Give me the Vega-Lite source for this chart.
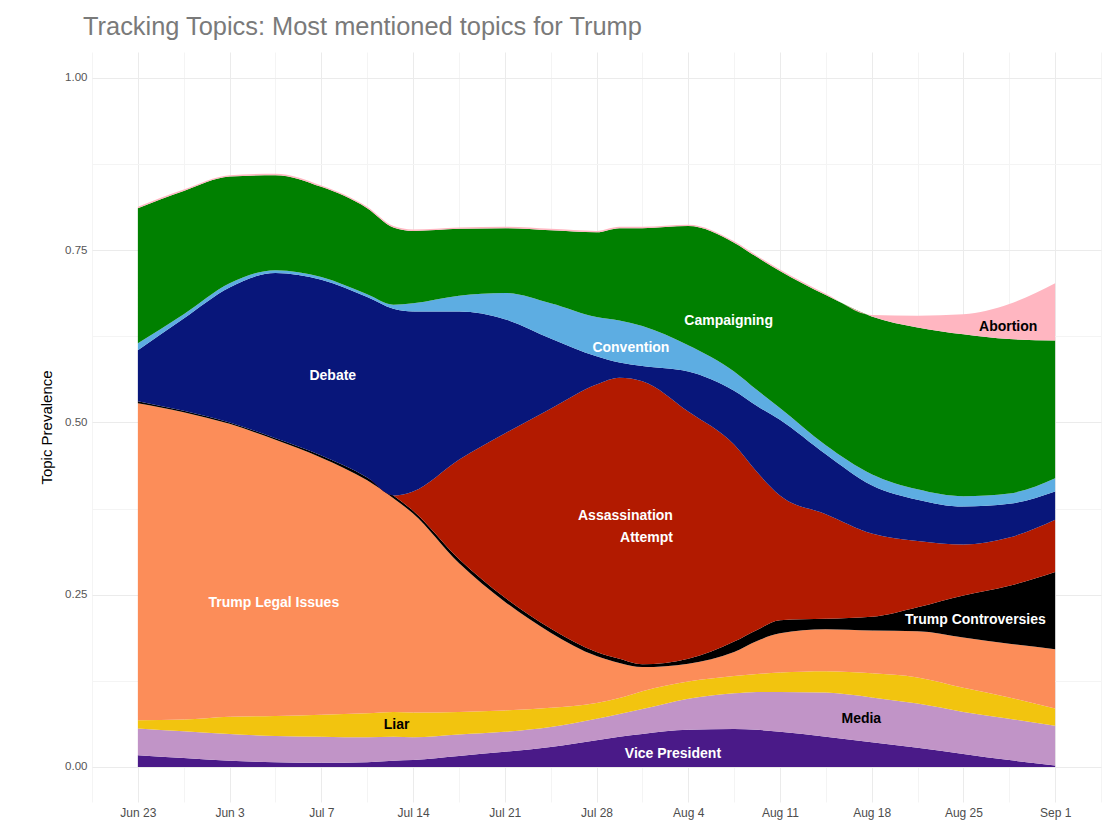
{
  "$schema": "https://vega.github.io/schema/vega-lite/v6.json",
  "width": 1009,
  "height": 750,
  "autosize": {"type": "none"},
  "padding": {"left": 92, "top": 52, "right": 9, "bottom": 31},
  "background": "white",
  "title": {"text": "Tracking Topics: Most mentioned topics for Trump", "anchor": "start", "frame": "group", "dx": -9, "dy": 25, "offset": 17, "baseline": "alphabetic", "font": "Liberation Sans", "fontSize": 25.4, "fontWeight": "normal", "color": "#7a7a7a"},
  "config": {"view": {"stroke": null}},
  "datasets": {
    "topics": [
      {"date":"2024-06-23T00:00:00Z","topic":"Vice President","value":0.017},{"date":"2024-06-23T00:00:00Z","topic":"Media","value":0.039},{"date":"2024-06-23T00:00:00Z","topic":"Liar","value":0.012},{"date":"2024-06-23T00:00:00Z","topic":"Trump Legal Issues","value":0.460},{"date":"2024-06-23T00:00:00Z","topic":"Trump Controversies","value":0.003},{"date":"2024-06-23T00:00:00Z","topic":"Assassination Attempt","value":0},{"date":"2024-06-23T00:00:00Z","topic":"Debate","value":0.074},{"date":"2024-06-23T00:00:00Z","topic":"Convention","value":0.010},{"date":"2024-06-23T00:00:00Z","topic":"Campaigning","value":0.196},{"date":"2024-06-23T00:00:00Z","topic":"Abortion","value":0.002},
      {"date":"2024-06-26T12:00:00Z","topic":"Vice President","value":0.013},{"date":"2024-06-26T12:00:00Z","topic":"Media","value":0.039},{"date":"2024-06-26T12:00:00Z","topic":"Liar","value":0.017},{"date":"2024-06-26T12:00:00Z","topic":"Trump Legal Issues","value":0.446},{"date":"2024-06-26T12:00:00Z","topic":"Trump Controversies","value":0.002},{"date":"2024-06-26T12:00:00Z","topic":"Assassination Attempt","value":0},{"date":"2024-06-26T12:00:00Z","topic":"Debate","value":0.134},{"date":"2024-06-26T12:00:00Z","topic":"Convention","value":0.006},{"date":"2024-06-26T12:00:00Z","topic":"Campaigning","value":0.179},{"date":"2024-06-26T12:00:00Z","topic":"Abortion","value":0.002},
      {"date":"2024-06-30T00:00:00Z","topic":"Vice President","value":0.009},{"date":"2024-06-30T00:00:00Z","topic":"Media","value":0.039},{"date":"2024-06-30T00:00:00Z","topic":"Liar","value":0.025},{"date":"2024-06-30T00:00:00Z","topic":"Trump Legal Issues","value":0.425},{"date":"2024-06-30T00:00:00Z","topic":"Trump Controversies","value":0.002},{"date":"2024-06-30T00:00:00Z","topic":"Assassination Attempt","value":0},{"date":"2024-06-30T00:00:00Z","topic":"Debate","value":0.196},{"date":"2024-06-30T00:00:00Z","topic":"Convention","value":0.006},{"date":"2024-06-30T00:00:00Z","topic":"Campaigning","value":0.155},{"date":"2024-06-30T00:00:00Z","topic":"Abortion","value":0.002},
      {"date":"2024-07-03T12:00:00Z","topic":"Vice President","value":0.007},{"date":"2024-07-03T12:00:00Z","topic":"Media","value":0.038},{"date":"2024-07-03T12:00:00Z","topic":"Liar","value":0.029},{"date":"2024-07-03T12:00:00Z","topic":"Trump Legal Issues","value":0.401},{"date":"2024-07-03T12:00:00Z","topic":"Trump Controversies","value":0.002},{"date":"2024-07-03T12:00:00Z","topic":"Assassination Attempt","value":0},{"date":"2024-07-03T12:00:00Z","topic":"Debate","value":0.240},{"date":"2024-07-03T12:00:00Z","topic":"Convention","value":0.004},{"date":"2024-07-03T12:00:00Z","topic":"Campaigning","value":0.138},{"date":"2024-07-03T12:00:00Z","topic":"Abortion","value":0.002},
      {"date":"2024-07-07T00:00:00Z","topic":"Vice President","value":0.006},{"date":"2024-07-07T00:00:00Z","topic":"Media","value":0.038},{"date":"2024-07-07T00:00:00Z","topic":"Liar","value":0.032},{"date":"2024-07-07T00:00:00Z","topic":"Trump Legal Issues","value":0.373},{"date":"2024-07-07T00:00:00Z","topic":"Trump Controversies","value":0.003},{"date":"2024-07-07T00:00:00Z","topic":"Assassination Attempt","value":0},{"date":"2024-07-07T00:00:00Z","topic":"Debate","value":0.255},{"date":"2024-07-07T00:00:00Z","topic":"Convention","value":0.004},{"date":"2024-07-07T00:00:00Z","topic":"Campaigning","value":0.131},{"date":"2024-07-07T00:00:00Z","topic":"Abortion","value":0.002},
      {"date":"2024-07-10T12:00:00Z","topic":"Vice President","value":0.007},{"date":"2024-07-10T12:00:00Z","topic":"Media","value":0.036},{"date":"2024-07-10T12:00:00Z","topic":"Liar","value":0.035},{"date":"2024-07-10T12:00:00Z","topic":"Trump Legal Issues","value":0.338},{"date":"2024-07-10T12:00:00Z","topic":"Trump Controversies","value":0.004},{"date":"2024-07-10T12:00:00Z","topic":"Assassination Attempt","value":0},{"date":"2024-07-10T12:00:00Z","topic":"Debate","value":0.262},{"date":"2024-07-10T12:00:00Z","topic":"Convention","value":0.004},{"date":"2024-07-10T12:00:00Z","topic":"Campaigning","value":0.125},{"date":"2024-07-10T12:00:00Z","topic":"Abortion","value":0.002},
      {"date":"2024-07-12T12:00:00Z","topic":"Vice President","value":0.009},{"date":"2024-07-12T12:00:00Z","topic":"Media","value":0.035},{"date":"2024-07-12T12:00:00Z","topic":"Liar","value":0.036},{"date":"2024-07-12T12:00:00Z","topic":"Trump Legal Issues","value":0.310},{"date":"2024-07-12T12:00:00Z","topic":"Trump Controversies","value":0.004},{"date":"2024-07-12T12:00:00Z","topic":"Assassination Attempt","value":0},{"date":"2024-07-12T12:00:00Z","topic":"Debate","value":0.271},{"date":"2024-07-12T12:00:00Z","topic":"Convention","value":0.006},{"date":"2024-07-12T12:00:00Z","topic":"Campaigning","value":0.112},{"date":"2024-07-12T12:00:00Z","topic":"Abortion","value":0.002},
      {"date":"2024-07-14T00:00:00Z","topic":"Vice President","value":0.010},{"date":"2024-07-14T00:00:00Z","topic":"Media","value":0.033},{"date":"2024-07-14T00:00:00Z","topic":"Liar","value":0.036},{"date":"2024-07-14T00:00:00Z","topic":"Trump Legal Issues","value":0.289},{"date":"2024-07-14T00:00:00Z","topic":"Trump Controversies","value":0.004},{"date":"2024-07-14T00:00:00Z","topic":"Assassination Attempt","value":0.028},{"date":"2024-07-14T00:00:00Z","topic":"Debate","value":0.261},{"date":"2024-07-14T00:00:00Z","topic":"Convention","value":0.012},{"date":"2024-07-14T00:00:00Z","topic":"Campaigning","value":0.105},{"date":"2024-07-14T00:00:00Z","topic":"Abortion","value":0.002},
      {"date":"2024-07-17T12:00:00Z","topic":"Vice President","value":0.016},{"date":"2024-07-17T12:00:00Z","topic":"Media","value":0.031},{"date":"2024-07-17T12:00:00Z","topic":"Liar","value":0.033},{"date":"2024-07-17T12:00:00Z","topic":"Trump Legal Issues","value":0.216},{"date":"2024-07-17T12:00:00Z","topic":"Trump Controversies","value":0.006},{"date":"2024-07-17T12:00:00Z","topic":"Assassination Attempt","value":0.144},{"date":"2024-07-17T12:00:00Z","topic":"Debate","value":0.215},{"date":"2024-07-17T12:00:00Z","topic":"Convention","value":0.023},{"date":"2024-07-17T12:00:00Z","topic":"Campaigning","value":0.097},{"date":"2024-07-17T12:00:00Z","topic":"Abortion","value":0.002},
      {"date":"2024-07-21T00:00:00Z","topic":"Vice President","value":0.022},{"date":"2024-07-21T00:00:00Z","topic":"Media","value":0.029},{"date":"2024-07-21T00:00:00Z","topic":"Liar","value":0.031},{"date":"2024-07-21T00:00:00Z","topic":"Trump Legal Issues","value":0.158},{"date":"2024-07-21T00:00:00Z","topic":"Trump Controversies","value":0.006},{"date":"2024-07-21T00:00:00Z","topic":"Assassination Attempt","value":0.238},{"date":"2024-07-21T00:00:00Z","topic":"Debate","value":0.166},{"date":"2024-07-21T00:00:00Z","topic":"Convention","value":0.038},{"date":"2024-07-21T00:00:00Z","topic":"Campaigning","value":0.094},{"date":"2024-07-21T00:00:00Z","topic":"Abortion","value":0.002},
      {"date":"2024-07-24T12:00:00Z","topic":"Vice President","value":0.029},{"date":"2024-07-24T12:00:00Z","topic":"Media","value":0.029},{"date":"2024-07-24T12:00:00Z","topic":"Liar","value":0.028},{"date":"2024-07-24T12:00:00Z","topic":"Trump Legal Issues","value":0.109},{"date":"2024-07-24T12:00:00Z","topic":"Trump Controversies","value":0.006},{"date":"2024-07-24T12:00:00Z","topic":"Assassination Attempt","value":0.319},{"date":"2024-07-24T12:00:00Z","topic":"Debate","value":0.102},{"date":"2024-07-24T12:00:00Z","topic":"Convention","value":0.051},{"date":"2024-07-24T12:00:00Z","topic":"Campaigning","value":0.106},{"date":"2024-07-24T12:00:00Z","topic":"Abortion","value":0.002},
      {"date":"2024-07-28T00:00:00Z","topic":"Vice President","value":0.039},{"date":"2024-07-28T00:00:00Z","topic":"Media","value":0.031},{"date":"2024-07-28T00:00:00Z","topic":"Liar","value":0.023},{"date":"2024-07-28T00:00:00Z","topic":"Trump Legal Issues","value":0.068},{"date":"2024-07-28T00:00:00Z","topic":"Trump Controversies","value":0.006},{"date":"2024-07-28T00:00:00Z","topic":"Assassination Attempt","value":0.388},{"date":"2024-07-28T00:00:00Z","topic":"Debate","value":0.041},{"date":"2024-07-28T00:00:00Z","topic":"Convention","value":0.057},{"date":"2024-07-28T00:00:00Z","topic":"Campaigning","value":0.123},{"date":"2024-07-28T00:00:00Z","topic":"Abortion","value":0.002},
      {"date":"2024-07-29T18:00:00Z","topic":"Vice President","value":0.044},{"date":"2024-07-29T18:00:00Z","topic":"Media","value":0.033},{"date":"2024-07-29T18:00:00Z","topic":"Liar","value":0.023},{"date":"2024-07-29T18:00:00Z","topic":"Trump Legal Issues","value":0.051},{"date":"2024-07-29T18:00:00Z","topic":"Trump Controversies","value":0.006},{"date":"2024-07-29T18:00:00Z","topic":"Assassination Attempt","value":0.408},{"date":"2024-07-29T18:00:00Z","topic":"Debate","value":0.022},{"date":"2024-07-29T18:00:00Z","topic":"Convention","value":0.061},{"date":"2024-07-29T18:00:00Z","topic":"Campaigning","value":0.134},{"date":"2024-07-29T18:00:00Z","topic":"Abortion","value":0.002},
      {"date":"2024-07-31T12:00:00Z","topic":"Vice President","value":0.048},{"date":"2024-07-31T12:00:00Z","topic":"Media","value":0.036},{"date":"2024-07-31T12:00:00Z","topic":"Liar","value":0.026},{"date":"2024-07-31T12:00:00Z","topic":"Trump Legal Issues","value":0.035},{"date":"2024-07-31T12:00:00Z","topic":"Trump Controversies","value":0.004},{"date":"2024-07-31T12:00:00Z","topic":"Assassination Attempt","value":0.411},{"date":"2024-07-31T12:00:00Z","topic":"Debate","value":0.022},{"date":"2024-07-31T12:00:00Z","topic":"Convention","value":0.058},{"date":"2024-07-31T12:00:00Z","topic":"Campaigning","value":0.142},{"date":"2024-07-31T12:00:00Z","topic":"Abortion","value":0.002},
      {"date":"2024-08-04T00:00:00Z","topic":"Vice President","value":0.054},{"date":"2024-08-04T00:00:00Z","topic":"Media","value":0.045},{"date":"2024-08-04T00:00:00Z","topic":"Liar","value":0.025},{"date":"2024-08-04T00:00:00Z","topic":"Trump Legal Issues","value":0.026},{"date":"2024-08-04T00:00:00Z","topic":"Trump Controversies","value":0.007},{"date":"2024-08-04T00:00:00Z","topic":"Assassination Attempt","value":0.359},{"date":"2024-08-04T00:00:00Z","topic":"Debate","value":0.058},{"date":"2024-08-04T00:00:00Z","topic":"Convention","value":0.038},{"date":"2024-08-04T00:00:00Z","topic":"Campaigning","value":0.173},{"date":"2024-08-04T00:00:00Z","topic":"Abortion","value":0.002},
      {"date":"2024-08-07T12:00:00Z","topic":"Vice President","value":0.055},{"date":"2024-08-07T12:00:00Z","topic":"Media","value":0.052},{"date":"2024-08-07T12:00:00Z","topic":"Liar","value":0.025},{"date":"2024-08-07T12:00:00Z","topic":"Trump Legal Issues","value":0.035},{"date":"2024-08-07T12:00:00Z","topic":"Trump Controversies","value":0.015},{"date":"2024-08-07T12:00:00Z","topic":"Assassination Attempt","value":0.286},{"date":"2024-08-07T12:00:00Z","topic":"Debate","value":0.078},{"date":"2024-08-07T12:00:00Z","topic":"Convention","value":0.028},{"date":"2024-08-07T12:00:00Z","topic":"Campaigning","value":0.187},{"date":"2024-08-07T12:00:00Z","topic":"Abortion","value":0.002},
      {"date":"2024-08-09T06:00:00Z","topic":"Vice President","value":0.054},{"date":"2024-08-09T06:00:00Z","topic":"Media","value":0.055},{"date":"2024-08-09T06:00:00Z","topic":"Liar","value":0.026},{"date":"2024-08-09T06:00:00Z","topic":"Trump Legal Issues","value":0.048},{"date":"2024-08-09T06:00:00Z","topic":"Trump Controversies","value":0.016},{"date":"2024-08-09T06:00:00Z","topic":"Assassination Attempt","value":0.229},{"date":"2024-08-09T06:00:00Z","topic":"Debate","value":0.096},{"date":"2024-08-09T06:00:00Z","topic":"Convention","value":0.023},{"date":"2024-08-09T06:00:00Z","topic":"Campaigning","value":0.193},{"date":"2024-08-09T06:00:00Z","topic":"Abortion","value":0.002},
      {"date":"2024-08-11T00:00:00Z","topic":"Vice President","value":0.051},{"date":"2024-08-11T00:00:00Z","topic":"Media","value":0.058},{"date":"2024-08-11T00:00:00Z","topic":"Liar","value":0.028},{"date":"2024-08-11T00:00:00Z","topic":"Trump Legal Issues","value":0.057},{"date":"2024-08-11T00:00:00Z","topic":"Trump Controversies","value":0.019},{"date":"2024-08-11T00:00:00Z","topic":"Assassination Attempt","value":0.181},{"date":"2024-08-11T00:00:00Z","topic":"Debate","value":0.110},{"date":"2024-08-11T00:00:00Z","topic":"Convention","value":0.017},{"date":"2024-08-11T00:00:00Z","topic":"Campaigning","value":0.199},{"date":"2024-08-11T00:00:00Z","topic":"Abortion","value":0.002},
      {"date":"2024-08-14T12:00:00Z","topic":"Vice President","value":0.044},{"date":"2024-08-14T12:00:00Z","topic":"Media","value":0.064},{"date":"2024-08-14T12:00:00Z","topic":"Liar","value":0.031},{"date":"2024-08-14T12:00:00Z","topic":"Trump Legal Issues","value":0.061},{"date":"2024-08-14T12:00:00Z","topic":"Trump Controversies","value":0.015},{"date":"2024-08-14T12:00:00Z","topic":"Assassination Attempt","value":0.152},{"date":"2024-08-14T12:00:00Z","topic":"Debate","value":0.087},{"date":"2024-08-14T12:00:00Z","topic":"Convention","value":0.013},{"date":"2024-08-14T12:00:00Z","topic":"Campaigning","value":0.218},{"date":"2024-08-14T12:00:00Z","topic":"Abortion","value":0.002},
      {"date":"2024-08-18T00:00:00Z","topic":"Vice President","value":0.036},{"date":"2024-08-18T00:00:00Z","topic":"Media","value":0.065},{"date":"2024-08-18T00:00:00Z","topic":"Liar","value":0.035},{"date":"2024-08-18T00:00:00Z","topic":"Trump Legal Issues","value":0.062},{"date":"2024-08-18T00:00:00Z","topic":"Trump Controversies","value":0.020},{"date":"2024-08-18T00:00:00Z","topic":"Assassination Attempt","value":0.121},{"date":"2024-08-18T00:00:00Z","topic":"Debate","value":0.070},{"date":"2024-08-18T00:00:00Z","topic":"Convention","value":0.016},{"date":"2024-08-18T00:00:00Z","topic":"Campaigning","value":0.229},{"date":"2024-08-18T00:00:00Z","topic":"Abortion","value":0.002},
      {"date":"2024-08-21T12:00:00Z","topic":"Vice President","value":0.028},{"date":"2024-08-21T12:00:00Z","topic":"Media","value":0.064},{"date":"2024-08-21T12:00:00Z","topic":"Liar","value":0.038},{"date":"2024-08-21T12:00:00Z","topic":"Trump Legal Issues","value":0.067},{"date":"2024-08-21T12:00:00Z","topic":"Trump Controversies","value":0.035},{"date":"2024-08-21T12:00:00Z","topic":"Assassination Attempt","value":0.096},{"date":"2024-08-21T12:00:00Z","topic":"Debate","value":0.060},{"date":"2024-08-21T12:00:00Z","topic":"Convention","value":0.015},{"date":"2024-08-21T12:00:00Z","topic":"Campaigning","value":0.235},{"date":"2024-08-21T12:00:00Z","topic":"Abortion","value":0.017},
      {"date":"2024-08-25T00:00:00Z","topic":"Vice President","value":0.019},{"date":"2024-08-25T00:00:00Z","topic":"Media","value":0.061},{"date":"2024-08-25T00:00:00Z","topic":"Liar","value":0.035},{"date":"2024-08-25T00:00:00Z","topic":"Trump Legal Issues","value":0.073},{"date":"2024-08-25T00:00:00Z","topic":"Trump Controversies","value":0.061},{"date":"2024-08-25T00:00:00Z","topic":"Assassination Attempt","value":0.074},{"date":"2024-08-25T00:00:00Z","topic":"Debate","value":0.055},{"date":"2024-08-25T00:00:00Z","topic":"Convention","value":0.015},{"date":"2024-08-25T00:00:00Z","topic":"Campaigning","value":0.235},{"date":"2024-08-25T00:00:00Z","topic":"Abortion","value":0.029},
      {"date":"2024-08-28T12:00:00Z","topic":"Vice President","value":0.010},{"date":"2024-08-28T12:00:00Z","topic":"Media","value":0.060},{"date":"2024-08-28T12:00:00Z","topic":"Liar","value":0.031},{"date":"2024-08-28T12:00:00Z","topic":"Trump Legal Issues","value":0.078},{"date":"2024-08-28T12:00:00Z","topic":"Trump Controversies","value":0.084},{"date":"2024-08-28T12:00:00Z","topic":"Assassination Attempt","value":0.070},{"date":"2024-08-28T12:00:00Z","topic":"Debate","value":0.049},{"date":"2024-08-28T12:00:00Z","topic":"Convention","value":0.015},{"date":"2024-08-28T12:00:00Z","topic":"Campaigning","value":0.224},{"date":"2024-08-28T12:00:00Z","topic":"Abortion","value":0.051},
      {"date":"2024-09-01T00:00:00Z","topic":"Vice President","value":0.002},{"date":"2024-09-01T00:00:00Z","topic":"Media","value":0.058},{"date":"2024-09-01T00:00:00Z","topic":"Liar","value":0.025},{"date":"2024-09-01T00:00:00Z","topic":"Trump Legal Issues","value":0.086},{"date":"2024-09-01T00:00:00Z","topic":"Trump Controversies","value":0.112},{"date":"2024-09-01T00:00:00Z","topic":"Assassination Attempt","value":0.076},{"date":"2024-09-01T00:00:00Z","topic":"Debate","value":0.041},{"date":"2024-09-01T00:00:00Z","topic":"Convention","value":0.019},{"date":"2024-09-01T00:00:00Z","topic":"Campaigning","value":0.200},{"date":"2024-09-01T00:00:00Z","topic":"Abortion","value":0.083}
    ],
    "whiteLabels": [
      {"date":"2024-07-07T21:00:00Z","value":0.5675,"label":"Debate"},
      {"date":"2024-08-07T02:00:00Z","value":0.647,"label":"Campaigning"},
      {"date":"2024-07-30T15:00:00Z","value":0.608,"label":"Convention"},
      {"date":"2024-07-03T09:00:00Z","value":0.238,"label":"Trump Legal Issues"},
      {"date":"2024-08-25T22:00:00Z","value":0.2134,"label":"Trump Controversies"},
      {"date":"2024-08-02T20:00:00Z","value":0.0189,"label":"Vice President"}
    ],
    "blackLabels": [
      {"date":"2024-08-28T10:00:00Z","value":0.6386,"label":"Abortion"},
      {"date":"2024-07-12T18:00:00Z","value":0.061,"label":"Liar"},
      {"date":"2024-08-17T05:00:00Z","value":0.0697,"label":"Media"}
    ],
    "rightLabels": [
      {"date":"2024-08-02T20:00:00Z","value":0.3643,"label":"Assassination\nAttempt"}
    ]
  },
  "layer": [
    {
      "data": {"name": "topics"},
      "transform": [
        {"calculate": "indexof(['Vice President','Media','Liar','Trump Legal Issues','Trump Controversies','Assassination Attempt','Debate','Convention','Campaigning','Abortion'], datum.topic)", "as": "rank"}
      ],
      "mark": {"type": "area", "interpolate": "monotone"},
      "encoding": {
        "x": {
          "field": "date", "type": "temporal",
          "scale": {"type": "utc", "domain": [{"year": 2024, "month": 6, "date": 19, "hours": 12, "utc": true}, {"year": 2024, "month": 9, "date": 4, "hours": 12, "utc": true}]},
          "axis": {
            "title": null,
            "values": [
              {"year":2024,"month":6,"date":19,"hours":12,"utc":true},
              {"year":2024,"month":6,"date":23,"utc":true},
              {"year":2024,"month":6,"date":26,"hours":12,"utc":true},
              {"year":2024,"month":6,"date":30,"utc":true},
              {"year":2024,"month":7,"date":3,"hours":12,"utc":true},
              {"year":2024,"month":7,"date":7,"utc":true},
              {"year":2024,"month":7,"date":10,"hours":12,"utc":true},
              {"year":2024,"month":7,"date":14,"utc":true},
              {"year":2024,"month":7,"date":17,"hours":12,"utc":true},
              {"year":2024,"month":7,"date":21,"utc":true},
              {"year":2024,"month":7,"date":24,"hours":12,"utc":true},
              {"year":2024,"month":7,"date":28,"utc":true},
              {"year":2024,"month":7,"date":31,"hours":12,"utc":true},
              {"year":2024,"month":8,"date":4,"utc":true},
              {"year":2024,"month":8,"date":7,"hours":12,"utc":true},
              {"year":2024,"month":8,"date":11,"utc":true},
              {"year":2024,"month":8,"date":14,"hours":12,"utc":true},
              {"year":2024,"month":8,"date":18,"utc":true},
              {"year":2024,"month":8,"date":21,"hours":12,"utc":true},
              {"year":2024,"month":8,"date":25,"utc":true},
              {"year":2024,"month":8,"date":28,"hours":12,"utc":true},
              {"year":2024,"month":9,"date":1,"utc":true},
              {"year":2024,"month":9,"date":4,"hours":12,"utc":true}
            ],
            "labelExpr": "utchours(datum.value) == 12 ? '' : (utcmonth(datum.value) == 5 && utcdate(datum.value) == 30 ? 'Jun 3' : utcFormat(datum.value, '%b %-d'))",
            "ticks": false, "domain": false, "labelPadding": 5, "labelFont": "Liberation Sans", "labelFontSize": 12, "labelColor": "#4d4d4d", "labelFlush": false, "labelOverlap": false,
            "gridColor": {"condition": {"test": "utchours(datum.value) == 12", "value": "#f4f4f4"}, "value": "#ebebeb"},
            "gridWidth": 1
          }
        },
        "y": {
          "field": "value", "type": "quantitative", "stack": "zero",
          "scale": {"domain": [-0.0508, 1.0377], "nice": false, "zero": false},
          "axis": {
            "title": "Topic Prevalence",
            "values": [0, 0.125, 0.25, 0.375, 0.5, 0.625, 0.75, 0.875, 1],
            "labelExpr": "round(datum.value * 8) % 2 == 1 ? '' : format(datum.value, '.2f')",
            "ticks": false, "domain": false, "labelPadding": 5, "labelFont": "Liberation Sans", "labelFontSize": 11.5, "labelColor": "#555555",
            "titleFont": "Liberation Sans", "titleFontSize": 15, "titleFontWeight": "normal", "titleColor": "#000000", "titlePadding": 10,
            "gridColor": {"condition": {"test": "round(datum.value * 8) % 2 == 1", "value": "#f4f4f4"}, "value": "#ebebeb"},
            "gridWidth": 1
          }
        },
        "color": {
          "field": "topic", "type": "nominal", "legend": null,
          "scale": {
            "domain": ["Vice President","Media","Liar","Trump Legal Issues","Trump Controversies","Assassination Attempt","Debate","Convention","Campaigning","Abortion"],
            "range": ["#4a1a88","#c194c7","#f2c40f","#fc8d59","#000000","#b21a00","#08167a","#5dade2","#008000","#ffb6c1"]
          }
        },
        "order": {"field": "rank", "type": "quantitative"}
      }
    },
    {
      "data": {"name": "whiteLabels"},
      "mark": {"type": "text", "font": "Liberation Sans", "fontSize": 14, "fontWeight": "bold", "color": "white", "align": "center", "baseline": "middle"},
      "encoding": {
        "x": {"field": "date", "type": "temporal"},
        "y": {"field": "value", "type": "quantitative"},
        "text": {"field": "label"}
      }
    },
    {
      "data": {"name": "blackLabels"},
      "mark": {"type": "text", "font": "Liberation Sans", "fontSize": 14, "fontWeight": "bold", "color": "black", "align": "center", "baseline": "middle"},
      "encoding": {
        "x": {"field": "date", "type": "temporal"},
        "y": {"field": "value", "type": "quantitative"},
        "text": {"field": "label"}
      }
    },
    {
      "data": {"name": "rightLabels"},
      "mark": {"type": "text", "font": "Liberation Sans", "fontSize": 14, "fontWeight": "bold", "color": "white", "align": "right", "baseline": "middle", "lineBreak": "\n", "lineHeight": 22},
      "encoding": {
        "x": {"field": "date", "type": "temporal"},
        "y": {"field": "value", "type": "quantitative"},
        "text": {"field": "label"}
      }
    }
  ]
}
